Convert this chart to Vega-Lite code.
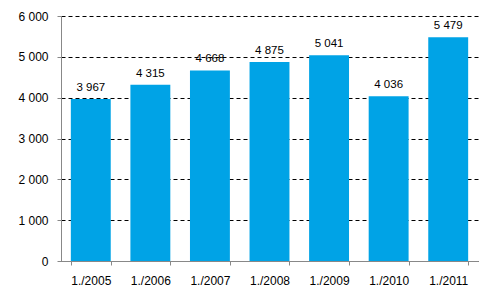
{
  "$schema": "https://vega.github.io/schema/vega-lite/v6.json",
  "width": 417,
  "height": 245,
  "autosize": {"type": "none"},
  "padding": {"left": 61, "top": 16, "right": 15, "bottom": 43},
  "background": "white",
  "data": {"values": [
    {"period": "1./2005", "value": 3967},
    {"period": "1./2006", "value": 4315},
    {"period": "1./2007", "value": 4668},
    {"period": "1./2008", "value": 4875},
    {"period": "1./2009", "value": 5041},
    {"period": "1./2010", "value": 4036},
    {"period": "1./2011", "value": 5479}
  ]},
  "config": {
    "locale": {"number": {"decimal": ",", "thousands": " ", "grouping": [3], "currency": ["", " €"]}},
    "view": {"stroke": null},
    "font": "Liberation Sans",
    "axis": {"labelFont": "Liberation Sans", "labelFontSize": 12, "labelColor": "#000000", "domainColor": "#888888", "tickColor": "#888888", "tickSize": 4}
  },
  "encoding": {
    "x": {"field": "period", "type": "nominal", "sort": null, "title": null,
      "scale": {"paddingInner": 0.33, "paddingOuter": 0.165},
      "axis": {"labelAngle": 0, "labelPadding": 10, "tickBand": "extent", "grid": false}},
    "y": {"field": "value", "type": "quantitative", "title": null,
      "scale": {"domain": [0, 6000], "nice": false},
      "axis": {"values": [0, 1000, 2000, 3000, 4000, 5000, 6000], "labelPadding": 9, "format": ",.0f",
        "grid": true, "gridColor": "#000000", "gridDash": [4, 3], "gridWidth": 1}}
  },
  "layer": [
    {"mark": {"type": "bar", "color": "#00A3E6"}},
    {"mark": {"type": "text", "baseline": "bottom", "dy": -6, "fontSize": 11.5, "color": "#000000"},
      "encoding": {"text": {"field": "value", "type": "quantitative", "format": ",.0f"}}}
  ]
}
